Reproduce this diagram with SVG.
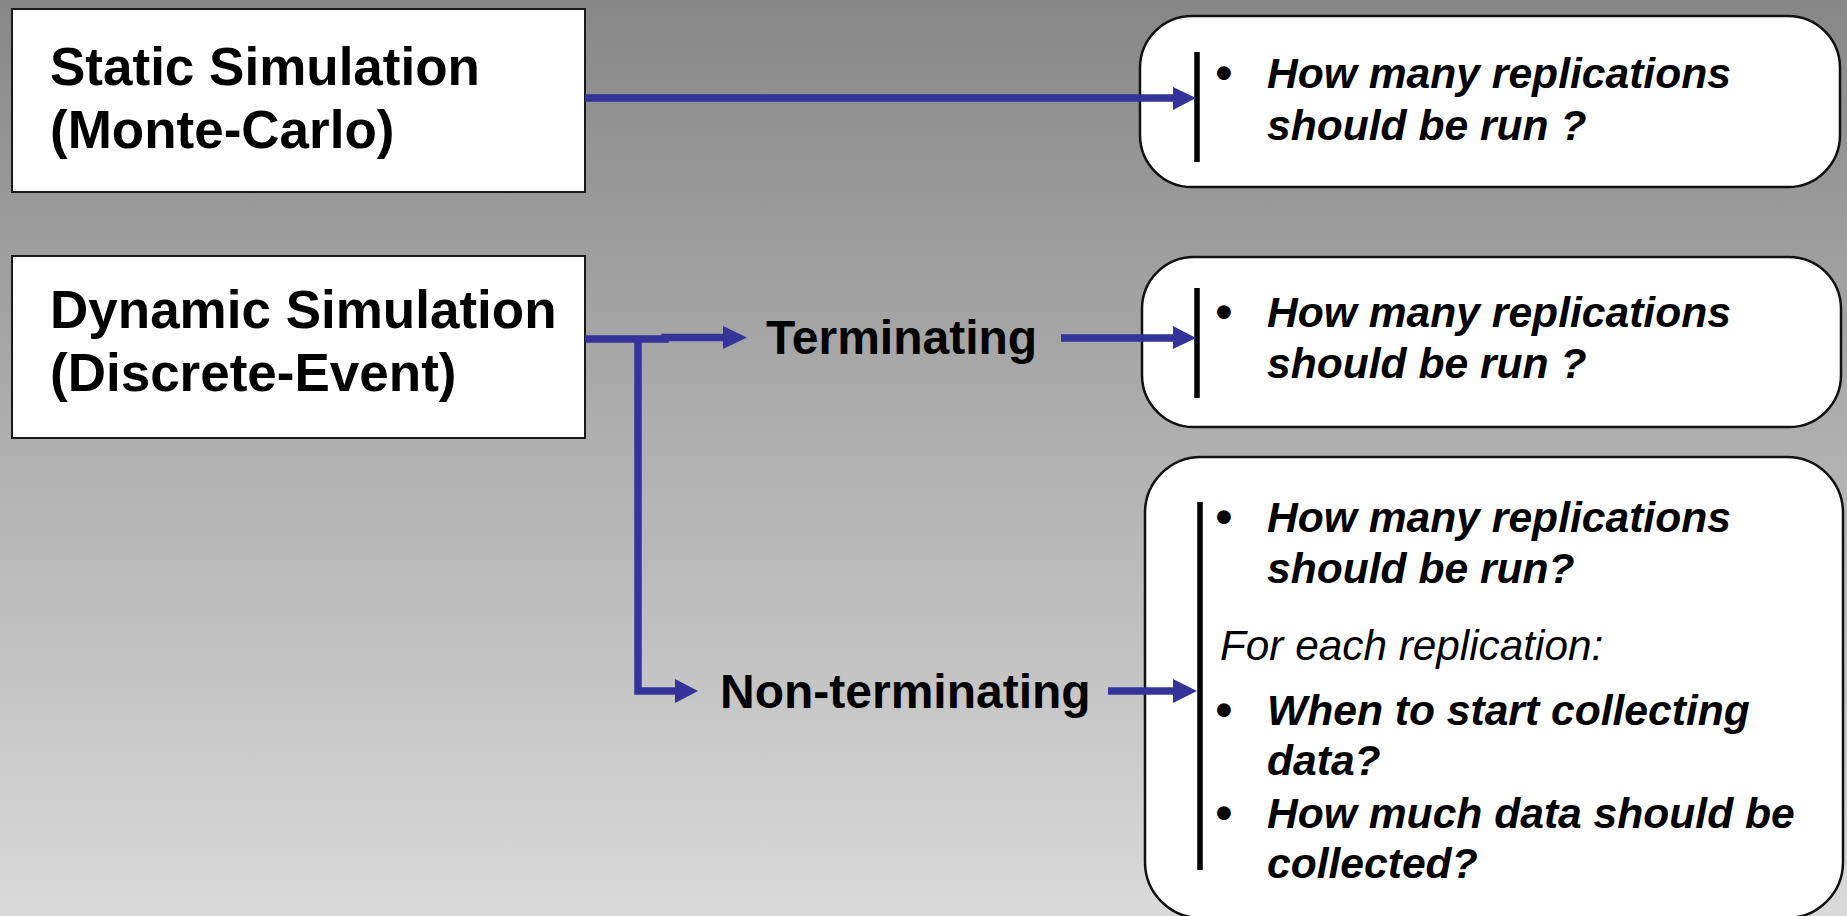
<svg xmlns="http://www.w3.org/2000/svg" width="1847" height="916" viewBox="0 0 1847 916">
<defs>
<linearGradient id="bg" x1="0" y1="0" x2="0" y2="1">
<stop offset="0" stop-color="#878787"/>
<stop offset="1" stop-color="#dadada"/>
</linearGradient>
</defs>
<style>
.box{fill:#fff;stroke:#1a1a1a;stroke-width:2}
.rbox{fill:#fff;stroke:#111;stroke-width:2.5}
.title{font-family:"Liberation Sans",Arial,sans-serif;font-weight:bold;font-size:53px;fill:#000}
.lbl{font-family:"Liberation Sans",Arial,sans-serif;font-weight:bold;font-size:48px;fill:#000}
.q{font-family:"Liberation Sans",Arial,sans-serif;font-weight:bold;font-style:italic;font-size:42.6px;fill:#000}
.n{font-family:"Liberation Sans",Arial,sans-serif;font-style:italic;font-size:42.3px;fill:#000}
.bul{font-family:"Liberation Sans",Arial,sans-serif;font-weight:bold;font-size:48px;fill:#000;text-anchor:middle}
.bar{stroke:#000;stroke-width:5.5}
.ln{fill:none;stroke:#333399;stroke-width:7.5}
.ah{fill:#333399}
</style>
<rect x="0" y="0" width="1847" height="916" fill="url(#bg)"/>

<g id="static">
<rect class="box" x="12" y="9" width="573" height="183"/>
<text class="title" x="50" y="85">Static Simulation</text>
<text class="title" x="50" y="148">(Monte-Carlo)</text>
</g>

<g id="dynamic">
<rect class="box" x="12" y="256" width="573" height="182"/>
<text class="title" x="50" y="328">Dynamic Simulation</text>
<text class="title" x="50" y="391">(Discrete-Event)</text>
</g>

<g id="terminating">
<text class="lbl" x="766" y="354">Terminating</text>
</g>

<g id="nonterminating">
<text class="lbl" x="720" y="708">Non-terminating</text>
</g>

<g id="q-static">
<rect class="rbox" x="1140" y="16" width="700" height="171" rx="52" ry="52"/>
<line class="bar" x1="1197" y1="52" x2="1197" y2="162"/>
<text class="bul" x="1224" y="89">•</text>
<text class="q" x="1267" y="88">How many replications</text>
<text class="q" x="1267" y="140">should be run ?</text>
</g>

<g id="q-terminating">
<rect class="rbox" x="1142" y="257" width="699" height="170" rx="52" ry="52"/>
<line class="bar" x1="1197" y1="288" x2="1197" y2="398"/>
<text class="bul" x="1224" y="328">•</text>
<text class="q" x="1267" y="327">How many replications</text>
<text class="q" x="1267" y="378">should be run ?</text>
</g>

<g id="q-nonterminating">
<rect class="rbox" x="1145" y="457" width="698" height="461" rx="56" ry="56"/>
<line class="bar" x1="1200" y1="502" x2="1200" y2="870"/>
<text class="bul" x="1224" y="533">•</text>
<text class="q" x="1267" y="532">How many replications</text>
<text class="q" x="1267" y="583">should be run?</text>
<text class="n" x="1220" y="660">For each replication:</text>
<text class="bul" x="1224" y="726">•</text>
<text class="q" x="1267" y="725">When to start collecting</text>
<text class="q" x="1267" y="775">data?</text>
<text class="bul" x="1224" y="829">•</text>
<text class="q" x="1267" y="828">How much data should be</text>
<text class="q" x="1267" y="878">collected?</text>
</g>

<g id="connectors">
<line class="ln" x1="585" y1="98" x2="1175" y2="98"/>
<polygon class="ah" points="1173,87 1196,98 1173,110"/>
<polyline class="ln" points="585,339 665,339 665,337.5 725,337.5"/>
<polygon class="ah" points="723,326 747,337.5 723,349"/>
<polyline class="ln" points="638,339 638,691 677,691"/>
<polygon class="ah" points="675,679 698,691 675,703"/>
<line class="ln" x1="1061" y1="338" x2="1175" y2="338"/>
<polygon class="ah" points="1173,326 1196,338 1173,349"/>
<line class="ln" x1="1108" y1="691" x2="1175" y2="691"/>
<polygon class="ah" points="1173,679 1197,691 1173,703"/>
</g>
</svg>
